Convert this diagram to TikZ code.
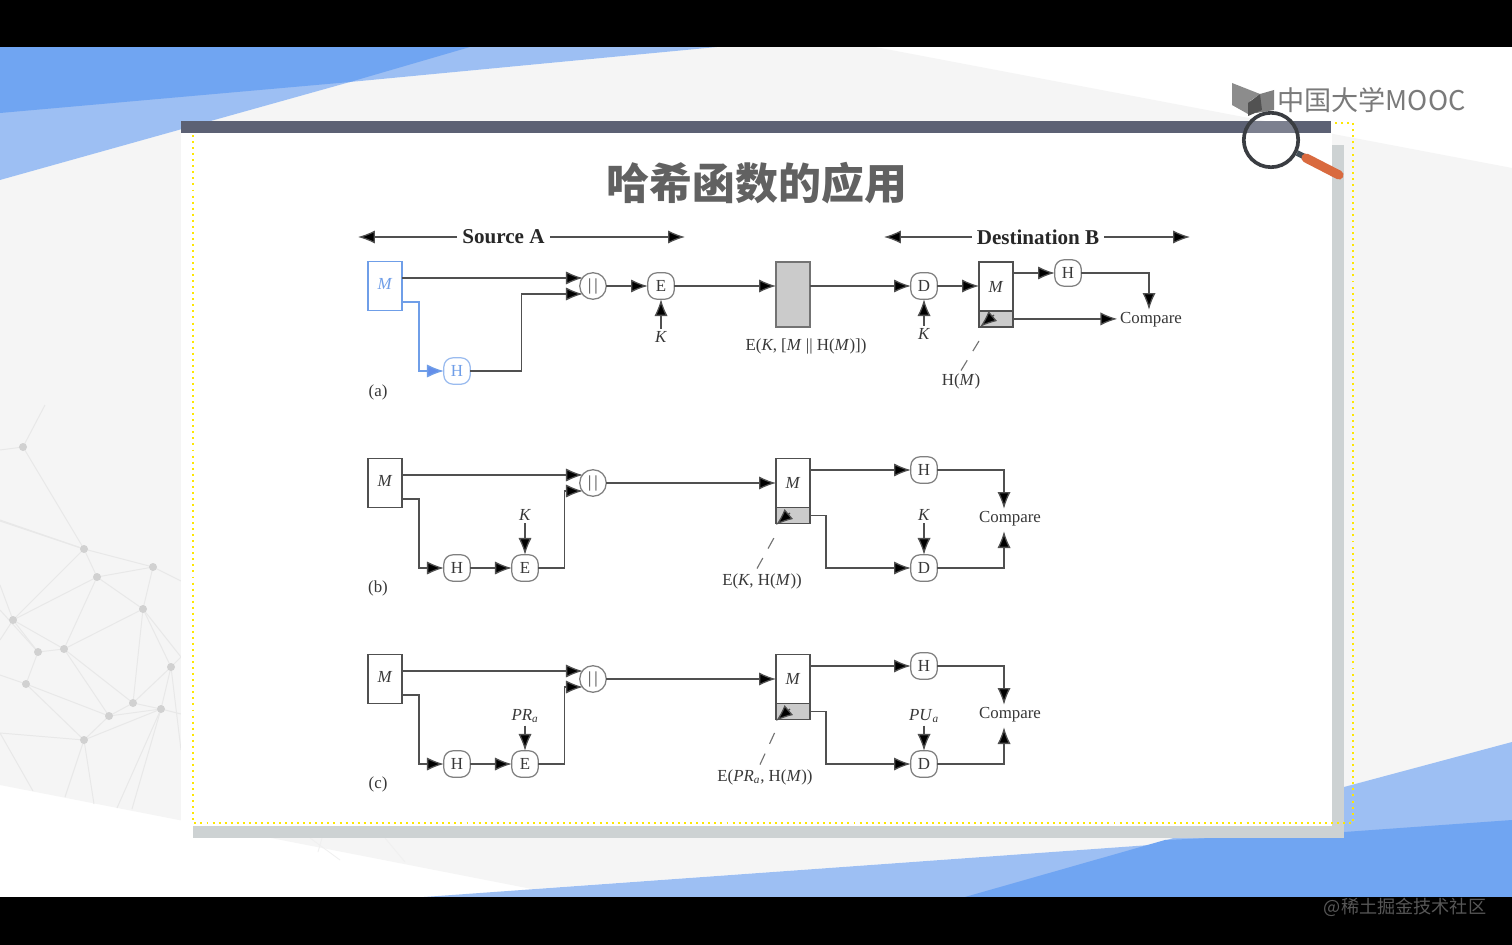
\documentclass[tikz,border=0pt]{standalone}
\usepackage{fontspec}
\setmainfont{Liberation Serif}
\newfontfamily\cjk{Noto Sans CJK SC}
\usetikzlibrary{
    arrows.meta,
    positioning,
    calc
}

\definecolor{bluedark}{HTML}{70A5F2}
\definecolor{bluelight}{HTML}{9DBFF3}
\definecolor{slidegray}{HTML}{F5F5F5}
\definecolor{shadowgray}{HTML}{CDD2D3}
\definecolor{barcol}{HTML}{5C6174}
\definecolor{linecol}{HTML}{505050}
\definecolor{textcol}{HTML}{383838}
\definecolor{cellcol}{HTML}{CBCBCB}
\definecolor{hiblue}{HTML}{6F9EE8}
\definecolor{handlecol}{HTML}{D96A3F}

\begin{document}
\begin{tikzpicture}[
    x=0.025cm, y=-0.025cm,
    >={Latex[length=0.42cm,width=0.33cm,fill=black]},
    font=\fontsize{12}{14}\selectfont,
    box/.style={
        draw=linecol,
        line width=0.9pt,
        outer sep=0pt,
        inner sep=0pt,
        minimum width=0.85cm,
        text=textcol
    },
    gate/.style={
        draw=black!50,
        line width=0.9pt,
        rounded corners=0.23cm,
        minimum size=0.66cm,
        inner sep=0pt,
        outer sep=0pt,
        fill=white,
        text=textcol
    },
    lbl/.style={text=textcol, inner sep=2pt, outer sep=0pt},
    head/.style={text=textcol!70!black, font=\fontsize{15}{17}\selectfont\bfseries, inner sep=3.5pt},
    arrow/.style={->, line width=0.9pt, draw=linecol},
    hiline/.style={->, line width=0.9pt, draw=hiblue, >={Latex[length=0.42cm,width=0.33cm,fill=hiblue!90!blue]}},
    leader/.style={line width=0.8pt, draw=black!55, dash pattern=on 0.3cm off 0.27cm},
    netline/.style={draw=black!9, line width=0.7pt},
    netdot/.style={fill=black!18}
]

\useasboundingbox (0,0) rectangle (1512,945);

% ============================================================
% SLIDE BACKGROUND
% ============================================================

\fill[white] (0,47) rectangle (1512,897);
\fill[slidegray] (0,180) -- (350,82) -- (717,47) -- (875,47) -- (1512,168)
    -- (1512,742) -- (1150,845) -- (532,889) -- (0,785) -- cycle;

\foreach \px/\py [count=\n] in {23/447,84/549,97/577,153/567,143/609,13/620,38/652,
    64/649,26/684,171/667,133/703,161/709,109/716,84/740,
    0/520,0/450,45/405,0/585,0/640,0/675,0/733,33/791,65/797,94/804,117/808,
    132/809,181/750,181/714,181/657,181/610,181/581,0/521,0/610} {
    \coordinate (p\n) at (\px,\py);
}
\foreach \a/\b in {1/2,2/3,2/4,3/4,3/5,4/5,2/6,3/6,6/8,6/7,7/9,8/3,8/5,8/13,8/11,
    5/11,5/10,10/11,10/12,11/12,11/13,13/12,14/12,14/13,9/13,9/14,7/8,
    1/16,1/17,2/32,2/15,6/18,6/19,7/33,9/20,14/21,21/22,14/23,14/24,12/25,12/26,
    10/27,12/28,10/29,5/29,4/31} {
    \draw[netline] (p\a) -- (p\b);
}
\foreach \n in {1,...,14} {
    \fill[netdot] (p\n) circle (0.1cm);
}
\draw[draw=black!6, line width=0.6pt] (310,838) -- (340,860);
\draw[draw=black!6, line width=0.6pt] (322,838) -- (318,852);
\draw[draw=black!6, line width=0.6pt] (385,838) -- (405,862);

\fill[bluelight] (0,47) -- (717,47) -- (350,82) -- (0,180) -- cycle;
\fill[bluedark] (0,47) -- (470,47) -- (350,82) -- (0,113) -- cycle;
\fill[bluelight] (424,897) -- (1150,845) -- (1344,787) -- (1512,742) -- (1512,897) -- cycle;
\fill[bluedark] (965,897) -- (1165,840) -- (1344,832) -- (1512,820) -- (1512,897) -- cycle;

% bands of the video frame
\fill[black] (0,0) rectangle (1512,47);
\fill[black] (0,897) rectangle (1512,945);
\node[text=black!66, font=\cjk\fontsize{12.9}{15}\selectfont, inner sep=0pt] (mark) at (1405,907) {@稀土掘金技术社区};

% ============================================================
% PANEL OF THE SLIDE
% ============================================================

\fill[shadowgray] (1332,145) rectangle (1344,838);
\fill[shadowgray] (193,826) rectangle (1344,838);
\fill[white] (181,132) rectangle (1332,826);
\draw[yellow!90!orange, line width=1.1pt, dash pattern=on 1.4pt off 2.9pt] (193,123) rectangle (1353,823);
\fill[barcol] (181,121) rectangle (1331,133);

\node[text=black!62, font=\cjk\bfseries\fontsize{30.5}{34}\selectfont, inner sep=0pt] (title) at (757,183) {哈希函数的应用};

% logo and magnifier
\fill[black!45] (1232,83) -- (1260,94) -- (1250,101) -- (1248,114) -- (1232,105) -- cycle;
\fill[black!50] (1260,94) -- (1274,90) -- (1274,110) -- (1256,113) -- cycle;
\fill[black!68] (1248,103) -- (1260,94) -- (1262,110) -- (1248,116) -- cycle;
\node[text=black!52, font=\cjk\fontsize{19.3}{21}\selectfont, inner sep=0pt, anchor=west] (logo) at (1277,100) {中国大学MOOC};
\fill[white, fill opacity=0.2] (1271,140) circle (0.68cm);
\draw[draw=black!85!cyan, line width=2.6pt] (1271,140) circle (0.68cm);
\draw[draw=black!75!cyan, line width=4pt] (1297,153) -- (1305,157);
\draw[draw=handlecol, line width=6.5pt, line cap=round] (1306,158) -- (1339,175);

% ============================================================
% HEADINGS
% ============================================================

\node[head] (srcA) at (503.5,237) {Source A};
\node[head] (dstB) at (1038,237) {Destination B};
\coordinate (srcL) at (358,237);
\coordinate (srcR) at (685,237);
\coordinate (dstL) at (884,237);
\coordinate (dstR) at (1190,237);
\draw[arrow] (srcA) -- (srcL);
\draw[arrow] (srcA) -- (srcR);
\draw[arrow] (dstB) -- (dstL);
\draw[arrow] (dstB) -- (dstR);

% ============================================================
% (a) HASH INSIDE THE ENCRYPTION
% ============================================================

\node[box, draw=hiblue, text=hiblue, minimum height=1.21cm] (msgA) at (385,286) {\raisebox{3pt}{\textit{M}}};
\node[gate, draw=hiblue!70, text=hiblue] (hashA) at (457,371) {H};
\node[gate, rounded corners=0.32cm] (joinA) at (593,286) {|\,|};
\node[gate] (encA) at (661,286) {E};
\node[lbl] (keyA) at (661,337) {\textit{K}};
\node[box, fill=cellcol, draw=black!55, minimum height=1.63cm] (cipA) at (793,294.5) {};
\node[lbl] (cipLabA) at (806,346) {E(\textit{K}, [\textit{M} || H(\textit{M})])};
\node[gate] (decA) at (924,286) {D};
\node[lbl] (keyDA) at (924,334) {\textit{K}};
\node[box, minimum height=1.22cm] (recvA) at (996,286.5) {\textit{M}};
\node[box, fill=cellcol, minimum height=0.4cm, below=0pt of recvA] (cellA) {};
\node[gate] (hashRA) at (1068,273) {H};
\node[lbl] (cmpA) at (1151,320) {Compare};
\node[lbl] (tagA) at (961,381) {H(\textit{M})};
\node[lbl] (capA) at (378,392) {(a)};

\draw[arrow] ($(msgA.east)+(0,-8)$) -- ($(joinA.west)+(3,-8)$);
\draw[hiline] ($(msgA.east)+(0,16)$) -- ++(17,0) |- (hashA.west);
\draw[arrow] (hashA.east) -- ++(51,0) |- ($(joinA.west)+(3,8)$);
\draw[arrow] (joinA) -- (encA);
\draw[arrow] (keyA) -- (encA);
\draw[arrow] (encA) -- (cipA.west |- encA);
\draw[arrow] (cipA.east |- decA) -- (decA);
\draw[arrow] (keyDA) -- (decA);
\draw[arrow] (decA) -- (recvA.west |- decA);
\draw[arrow] (recvA.east |- hashRA) -- (hashRA);
\draw[arrow] (hashRA) -| ($(cmpA.north)+(-2,0)$);
\draw[arrow] (cellA.east) -- (cellA.east -| cmpA.west);
\coordinate (tipA) at (980,327);
\coordinate (tailA) at (994,315);
\coordinate (dashA) at (979,341);
\draw[arrow] (tailA) -- (tipA);
\draw[leader] (tagA.north) -- (dashA);

% ============================================================
% (b) AND (c) SIGNED HASH BESIDE THE MESSAGE
% ============================================================

\newcommand{\sigrow}[7]{%
\begin{scope}[shift={(0,#2)}]
    \node[box, minimum height=1.21cm] (msg#1) at (385,483) {\raisebox{3pt}{\textit{M}}};
    \node[gate] (hash#1) at (457,568) {H};
    \node[gate] (enc#1) at (525,568) {E};
    \node[lbl] (key#1) at (525,#7) {#3};
    \node[gate, rounded corners=0.32cm] (join#1) at (593,483) {|\,|};
    \node[box, minimum height=1.22cm] (recv#1) at (793,483) {\textit{M}};
    \node[box, fill=cellcol, minimum height=0.4cm, below=0pt of recv#1] (cell#1) {};
    \node[gate] (hashR#1) at (924,470) {H};
    \node[gate] (dec#1) at (924,568) {D};
    \node[lbl] (keyD#1) at (924,#7) {#4};
    \node[lbl] (cmp#1) at (1010,519) {Compare};
    \node[lbl] (tag#1) at (#5,581) {#6};
    \node[lbl] (cap#1) at (378,588) {(\MakeLowercase{#1})};
    \draw[arrow] ($(msg#1.east)+(0,-8)$) -- ($(join#1.west)+(3,-8)$);
    \draw[arrow] ($(msg#1.east)+(0,16)$) -- ++(17,0) |- (hash#1.west);
    \draw[arrow] (hash#1) -- (enc#1);
    \draw[arrow] (key#1) -- (enc#1);
    \draw[arrow] (enc#1.east) -- ++(26,0) |- ($(join#1.west)+(3,8)$);
    \draw[arrow] (join#1) -- (recv#1);
    \draw[arrow] (recv#1.east |- hashR#1) -- (hashR#1);
    \draw[arrow] (cell#1.east) -- ++(16,0) |- (dec#1.west);
    \draw[arrow] (keyD#1) -- (dec#1);
    \draw[arrow] (hashR#1) -| ($(cmp#1.north)+(-6,0)$);
    \draw[arrow] (dec#1) -| ($(cmp#1.south)+(-6,2)$);
    \coordinate (tip#1) at (776,525);
    \coordinate (tail#1) at (790,513);
    \coordinate (dash#1) at (775,536);
    \draw[arrow] (tail#1) -- (tip#1);
    \draw[leader] ($(tag#1.north)+(-5,-2)$) -- (dash#1);
\end{scope}
}

\sigrow{B}{0}{\textit{K}}{\textit{K}}{762}{E(\textit{K}, H(\textit{M}))}{515}
\sigrow{C}{196}{\textit{PR}\textsubscript{\textit{a}}}{\textit{PU}\textsubscript{\textit{a}}}{765}{E(\textit{PR}\textsubscript{\textit{a}}, H(\textit{M}))}{520}

\end{tikzpicture}
\end{document}
